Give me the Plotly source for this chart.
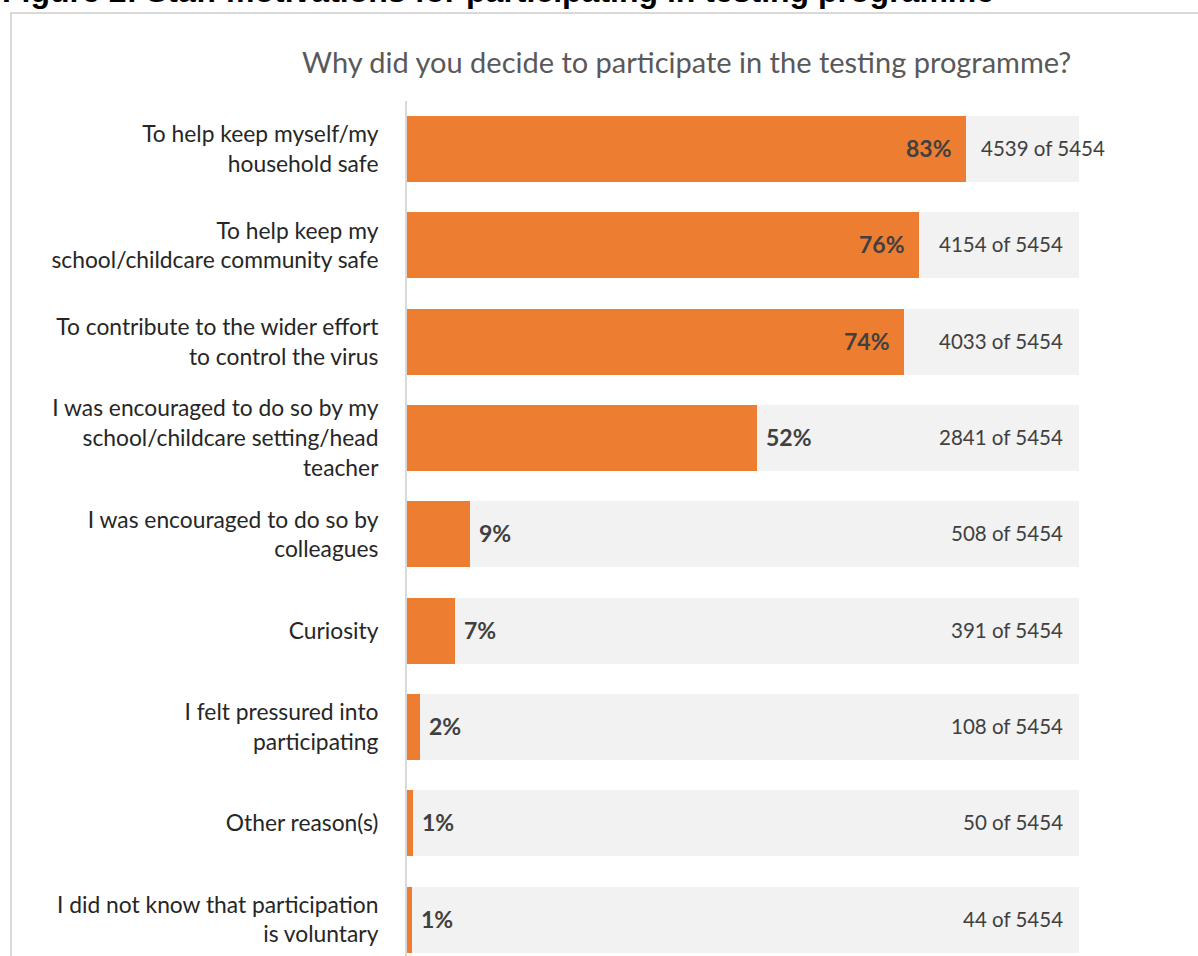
import plotly.graph_objects as go

categories = [
    "To help keep myself/my<br>household safe",
    "To help keep my<br>school/childcare community safe",
    "To contribute to the wider effort<br>to control the virus",
    "I was encouraged to do so by my<br>school/childcare setting/head<br>teacher",
    "I was encouraged to do so by<br>colleagues",
    "Curiosity",
    "I felt pressured into<br>participating",
    "Other reason(s)",
    "I did not know that participation<br>is voluntary",
]
counts = [4539, 4154, 4033, 2841, 508, 391, 108, 50, 44]
total = 5454
pct_labels = ["83%", "76%", "74%", "52%", "9%", "7%", "2%", "1%", "1%"]

pcts = [c / total * 100 for c in counts]
ypos = list(range(len(categories)))

# pixel geometry
W, H = 1198, 956
L, R, T, B = 407, 119, 101, 0
pw, ph = W - L - R, H - T - B
band = 96.3
span = ph / band

FONT = "Lato"
TXT = "#404040"
ORANGE = "#ED7D31"
GRAY = "#F2F2F2"

fig = go.Figure()
fig.add_trace(go.Bar(y=ypos, x=[100] * len(ypos), orientation="h",
                     marker=dict(color=GRAY, line=dict(width=0)), width=0.685,
                     hoverinfo="skip", showlegend=False))
fig.add_trace(go.Bar(y=ypos, x=pcts, orientation="h",
                     marker=dict(color=ORANGE, line=dict(width=0)), width=0.685,
                     showlegend=False))

ann = []
for i, (p, lab, c) in enumerate(zip(pcts, pct_labels, counts)):
    if p > 60:
        ann.append(dict(x=p, y=i, xref="x", yref="y", text=f"<b>{lab}</b>",
                        xanchor="right", yanchor="middle", xshift=-12, yshift=1,
                        showarrow=False, font=dict(family=FONT, size=23, color=TXT)))
    else:
        ann.append(dict(x=p, y=i, xref="x", yref="y", text=f"<b>{lab}</b>",
                        xanchor="left", yanchor="middle", xshift=7, yshift=1,
                        showarrow=False, font=dict(family=FONT, size=23, color=TXT)))
    cnt = f"{c} of {total}"
    if p > 80:
        ann.append(dict(x=p, y=i, xref="x", yref="y", text=cnt, xanchor="left",
                        yanchor="middle", xshift=13, yshift=1, showarrow=False,
                        font=dict(family=FONT, size=20.5, color=TXT)))
    else:
        ann.append(dict(x=100, y=i, xref="x", yref="y", text=cnt, xanchor="right",
                        yanchor="middle", xshift=-14, yshift=1, showarrow=False,
                        font=dict(family=FONT, size=20.5, color=TXT)))

# chart title
ann.append(dict(x=(686 - L) / pw, y=1 + (T - 61) / ph, xref="paper", yref="paper",
                text="Why did you decide to participate in the testing programme?",
                xanchor="center", yanchor="middle", showarrow=False,
                font=dict(family=FONT, size=29, color="#595959")))
# figure caption (cut off at top)
ann.append(dict(x=(0 - L) / pw, y=1 + (T + 9) / ph, xref="paper", yref="paper",
                text="<b>Figure 2: Staff motivations for participating in testing programme</b>",
                xanchor="left", yanchor="middle", showarrow=False,
                font=dict(family="Liberation Sans", size=32, color="#000000")))

fig.update_layout(
    width=W, height=H,
    margin=dict(l=L, r=R, t=T, b=B, pad=0),
    paper_bgcolor="white", plot_bgcolor="white",
    barmode="overlay", bargap=0,
    annotations=ann,
    shapes=[dict(type="rect", xref="paper", yref="paper",
                 x0=(11 - L) / pw, x1=2, y0=-0.2, y1=1 + (T - 13) / ph,
                 line=dict(color="#D9D9D9", width=2), fillcolor="rgba(0,0,0,0)",
                 layer="below")],
    xaxis=dict(range=[0, 100], visible=False, fixedrange=True),
    yaxis=dict(range=[-0.5 + span, -0.5], tickvals=ypos, ticktext=categories,
               showgrid=False, zeroline=False, showline=True, linecolor="#D9D9D9",
               linewidth=2, ticks="", ticklabelstandoff=22,
               tickfont=dict(family=FONT, size=22.8, color="#262626")),
)

fig.write_html("out.html")
